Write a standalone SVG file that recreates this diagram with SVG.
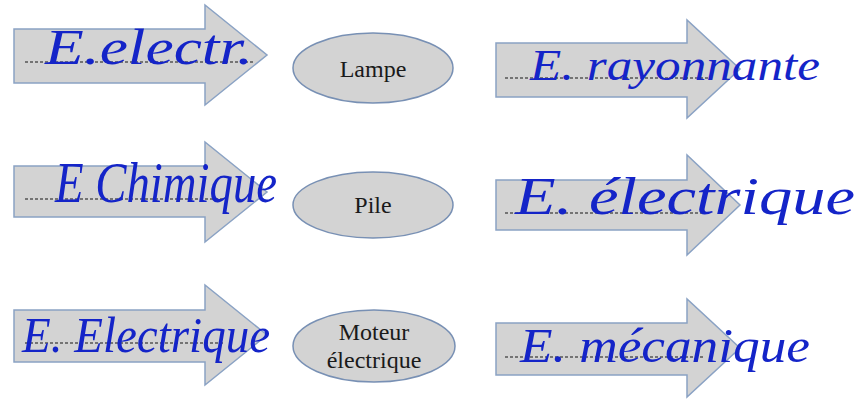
<svg xmlns="http://www.w3.org/2000/svg" width="860" height="400" viewBox="0 0 860 400">
<style>
.arrow{fill:#d3d3d3;stroke:#8aa2c4;stroke-width:1.5;stroke-linejoin:miter}
.oval{fill:#d3d3d3;stroke:#7890b4;stroke-width:1.5}
.dots{stroke:#555;stroke-width:1.3;stroke-dasharray:3 2;fill:none}
.lbl{font-family:"Liberation Serif","Times New Roman",serif;font-size:24px;fill:#1a1a1a;text-anchor:middle}
.hw{font-family:"Liberation Serif","DejaVu Serif",serif;font-style:italic;fill:#1424c8}
</style>
<rect width="860" height="400" fill="#ffffff"/>

<g id="arrow-in-lampe">
<path class="arrow" d="M14,29 H205 V5 L267,55 L205,105 V83 H14 Z"/>
<line class="dots" x1="25" y1="62" x2="255" y2="62"/>
<text class="hw" x="45" y="64" font-size="50" textLength="208" lengthAdjust="spacingAndGlyphs">E.electr.</text>
</g>
<g id="lampe">
<ellipse class="oval" cx="373" cy="68" rx="80" ry="35"/>
<text class="lbl" x="373" y="77">Lampe</text>
</g>
<g id="arrow-out-lampe">
<path class="arrow" d="M496,43 H687 V20 L740,69 L687,118 V97 H496 Z"/>
<line class="dots" x1="505" y1="78" x2="712" y2="78"/>
<text class="hw" x="530" y="80" font-size="44" textLength="290" lengthAdjust="spacingAndGlyphs">E. rayonnante</text>
</g>

<g id="arrow-in-pile">
<path class="arrow" d="M14,166 H205 V142 L267,192 L205,242 V217 H14 Z"/>
<line class="dots" x1="25" y1="199" x2="225" y2="199"/>
<text class="hw" x="55" y="202" font-size="56" textLength="222" lengthAdjust="spacingAndGlyphs">E Chimique</text>
</g>
<g id="pile">
<ellipse class="oval" cx="373" cy="205" rx="80" ry="33"/>
<text class="lbl" x="373" y="213">Pile</text>
</g>
<g id="arrow-out-pile">
<path class="arrow" d="M496,180 H687 V155 L740,205 L687,255 V230 H496 Z"/>
<line class="dots" x1="505" y1="213" x2="705" y2="213"/>
<text class="hw" x="515" y="214" font-size="52" textLength="340" lengthAdjust="spacingAndGlyphs">E. électrique</text>
</g>

<g id="arrow-in-moteur">
<path class="arrow" d="M14,310 H205 V285 L267,335 L205,385 V362 H14 Z"/>
<line class="dots" x1="25" y1="343" x2="225" y2="343"/>
<text class="hw" x="22" y="352" font-size="50" textLength="248" lengthAdjust="spacingAndGlyphs">E. Electrique</text>
</g>
<g id="moteur">
<ellipse class="oval" cx="374" cy="346" rx="81" ry="36"/>
<text class="lbl" x="374" y="340">Moteur</text>
<text class="lbl" x="374" y="368">électrique</text>
</g>
<g id="arrow-out-moteur">
<path class="arrow" d="M496,323 H687 V299 L740,348 L687,397 V375 H496 Z"/>
<line class="dots" x1="505" y1="357" x2="705" y2="357"/>
<text class="hw" x="520" y="362" font-size="48" textLength="290" lengthAdjust="spacingAndGlyphs">E. mécanique</text>
</g>
</svg>
